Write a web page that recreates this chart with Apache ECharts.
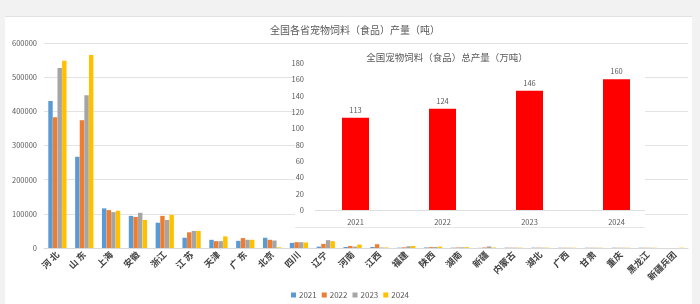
<!DOCTYPE html>
<html>
<head>
<meta charset="utf-8">
<script src="https://cdn.jsdelivr.net/npm/echarts@6/dist/echarts.min.js"></script>
<style>
  html, body { margin: 0; padding: 0; background: #fff; }
  #chart { width: 700px; height: 304px; }
</style>
</head>
<body>
<div id="chart"></div>
<script>
// 各省产量（吨）
const provinces = ['河 北', '山 东', '上海', '安徽', '浙江', '江 苏', '天津', '广 东', '北京', '四川', '辽宁', '河南',
  '江西', '福建', '陕西', '湖南', '新疆', '内蒙古', '湖北', '广西', '甘肃', '重庆', '黑龙江', '新疆兵团']
const years = ['2021', '2022', '2023', '2024']
const y2021 = [430000, 267000, 116000, 94000, 74000, 30000, 24000, 21000, 30000, 15000, 4000, 3000,
  3000, 1000, 1500, 1000, 500, 1000, 1000, 800, 800, 800, 800, 0]
const y2022 = [383000, 374000, 111000, 91000, 94000, 46000, 20000, 29000, 24000, 17000, 12000, 6000,
  11000, 2000, 2500, 1500, 1500, 1000, 1000, 800, 800, 800, 800, 0]
const y2023 = [527000, 447000, 105000, 103000, 82000, 50000, 20000, 24000, 22000, 17000, 23000, 4000,
  1500, 5000, 3000, 2000, 4500, 1000, 1000, 800, 800, 800, 800, 0]
const y2024 = [548000, 565000, 109000, 82000, 97000, 50000, 34000, 24000, 2000, 16000, 20000, 10000,
  1500, 6000, 4000, 2500, 1500, 1000, 1000, 800, 800, 800, 800, 1000]
const mainTicks = { min: 0, max: 600000, interval: 100000 }

// 全国总产量（万吨）
const totalYears = ['2021', '2022', '2023', '2024']
const totalValues = [113, 124, 146, 160]
const insetTicks = { min: 0, max: 180, interval: 20 }

const colors = ['#5b9bd5', '#ed7d31', '#a5a5a5', '#ffc000']
const font = '"Noto Sans CJK SC", "Noto Sans", sans-serif'

const chart = echarts.init(document.getElementById('chart'))

const provinceSeries = [y2021, y2022, y2023, y2024].map((data, i) => ({
  name: years[i],
  type: 'bar',
  xAxisIndex: 0,
  yAxisIndex: 0,
  data: data,
  barGap: '4%',
  barCategoryGap: '32%',
  itemStyle: { color: colors[i] },
  z: 2
}))

chart.setOption({
  backgroundColor: '#fff',
  animation: false,
  color: colors,
  textStyle: { fontFamily: font },
  title: [
    {
      text: '全国各省宠物饲料（食品）产量（吨）',
      left: 350,
      top: 20,
      textAlign: 'center',
      textStyle: { fontSize: 10, fontWeight: 'normal', color: '#595959' }
    },
    {
      text: '全国宠物饲料（食品）总产量（万吨）',
      left: 442,
      top: 48,
      textAlign: 'center',
      z: 4,
      textStyle: { fontSize: 9.5, fontWeight: 'normal', color: '#595959' }
    }
  ],
  legend: {
    data: years,
    left: 'center',
    bottom: 0,
    itemWidth: 5,
    itemHeight: 5,
    itemGap: 5,
    icon: 'rect',
    textStyle: { fontSize: 8, color: '#595959', padding: [0, 0, 0, -2] }
  },
  grid: [
    { left: 44, right: 12, top: 43, bottom: 56 },
    { left: 312, right: 40, top: 63, bottom: 94 }
  ],
  xAxis: [
    {
      type: 'category',
      gridIndex: 0,
      data: provinces,
      axisLine: { lineStyle: { color: '#d9d9d9' } },
      axisTick: { show: false },
      axisLabel: {
        interval: 0,
        rotate: 45,
        fontSize: 9,
        fontWeight: 'bold',
        color: '#404040',
        margin: 5
      }
    },
    {
      type: 'category',
      gridIndex: 1,
      data: totalYears,
      z: 4,
      axisLine: { show: false },
      axisTick: { show: false },
      axisLabel: { fontSize: 7.5, color: '#595959', margin: 8 }
    }
  ],
  yAxis: [
    {
      type: 'value',
      gridIndex: 0,
      min: mainTicks.min,
      max: mainTicks.max,
      interval: mainTicks.interval,
      axisLine: { show: false },
      axisTick: { show: false },
      splitLine: { lineStyle: { color: '#e3e3e3' } },
      axisLabel: { fontSize: 7.5, color: '#595959', margin: 7, formatter: v => String(v) }
    },
    {
      type: 'value',
      gridIndex: 1,
      min: insetTicks.min,
      max: insetTicks.max,
      interval: insetTicks.interval,
      z: 4,
      axisLine: { show: false },
      axisTick: { show: false },
      splitLine: { show: false },
      axisLabel: { fontSize: 7.5, color: '#595959', margin: 8 }
    }
  ],
  graphic: [
    // 灰色外边
    { type: 'rect', shape: { x: 0, y: 0, width: 700, height: 16 }, style: { fill: '#f2f2f2' }, z: 0 },
    { type: 'rect', shape: { x: 0, y: 0, width: 5, height: 304 }, style: { fill: '#f2f2f2' }, z: 0 },
    { type: 'rect', shape: { x: 692, y: 0, width: 8, height: 304 }, style: { fill: '#f2f2f2' }, z: 0 },
    { type: 'line', shape: { x1: 5, y1: 16.5, x2: 692, y2: 16.5 }, style: { stroke: '#e2e2e2' }, z: 0 },
    // 嵌入图背景
    {
      type: 'rect',
      shape: { x: 295, y: 45, width: 350, height: 183 },
      style: { fill: '#fff', stroke: null },
      z: 3
    },
    { type: 'line', shape: { x1: 295, y1: 227.5, x2: 645, y2: 227.5 }, style: { stroke: '#e6e6e6' }, z: 3 },
    { type: 'line', shape: { x1: 315, y1: 210.5, x2: 645, y2: 210.5 }, style: { stroke: '#e0e0e0' }, z: 3 }
  ],
  series: provinceSeries.concat([
    {
      name: '总产量',
      type: 'bar',
      xAxisIndex: 1,
      yAxisIndex: 1,
      data: totalValues,
      barWidth: 27,
      z: 4,
      itemStyle: { color: '#ff0000' },
      label: {
        show: true,
        position: 'top',
        fontSize: 7.5,
        color: '#595959',
        distance: 4
      }
    }
  ])
})
</script>
</body>
</html>
